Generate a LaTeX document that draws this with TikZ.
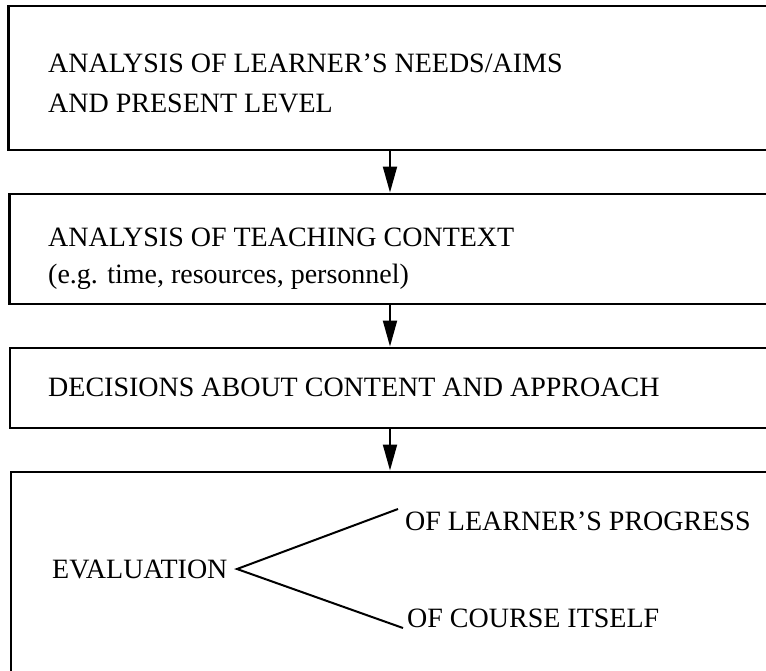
\documentclass[tikz,border=0pt]{standalone}
\usepackage{fontspec}
\setmainfont{Liberation Serif}
\usetikzlibrary{arrows.meta}
\begin{document}
\begin{tikzpicture}[x=1pt,y=-1pt,
  box/.style={draw,line width=2.6pt,rectangle,inner sep=0pt,anchor=north west},
  txt/.style={anchor=base west,inner sep=0pt,font=\fontsize{28}{32}\selectfont},
  arr/.style={line width=2pt,-{Triangle[length=26pt,width=14pt]}},
  brk/.style={line width=2pt}]
\useasboundingbox (0,0) rectangle (766,670);
\clip (0,0) rectangle (766,670);
\node[box,minimum width=800pt,minimum height=144pt] (b1) at (7,4.5) {};
\node[box,minimum width=800pt,minimum height=110pt] (b2) at (8,192.5) {};
\node[box,minimum width=800pt,minimum height=80pt] (b3) at (8.5,346.5) {};
\node[box,minimum width=800pt,minimum height=201pt] (b4) at (9.5,470.5) {};
\node[txt] (t1) at (48,72) {ANALYSIS OF LEARNER’S NEEDS/AIMS};
\node[txt] (t2) at (48,112) {AND PRESENT LEVEL};
\node[txt] (t3) at (48,246) {ANALYSIS OF TEACHING CONTEXT};
\node[txt] (t4) at (48,283) {(e.g. time, resources, personnel)};
\node[txt] (t5) at (48,396) {DECISIONS ABOUT CONTENT AND APPROACH};
\node[txt] (ev) at (52,578) {EVALUATION};
\node[txt] (p1) at (405,530) {OF LEARNER’S PROGRESS};
\node[txt] (p2) at (407,627) {OF COURSE ITSELF};
\coordinate (ax) at (390,0);
\coordinate (apex) at (237,569);
\coordinate (u) at (398,509);
\coordinate (l) at (403,628);
\draw[arr] (b1.south -| ax) -- (b2.north -| ax);
\draw[arr] (b2.south -| ax) -- (b3.north -| ax);
\draw[arr] (b3.south -| ax) -- (b4.north -| ax);
\draw[brk] (u) -- (apex) -- (l);
\end{tikzpicture}
\end{document}
